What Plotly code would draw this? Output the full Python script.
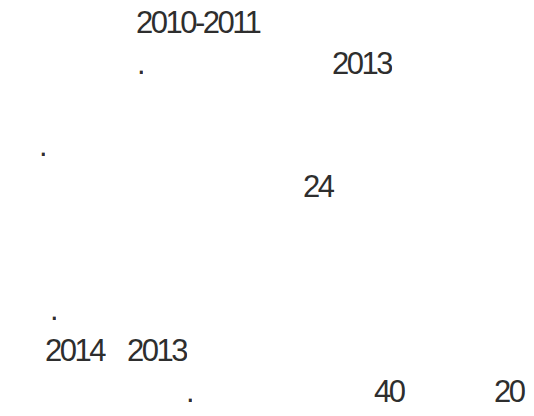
import plotly.graph_objects as go

# Visible fragments of the text block (only digits and punctuation rendered)
fragments = ["2010-2011", ".", "2013", ".", "24", ".", "2014", "2013", ".", "40", "20"]
# layout: line number of each fragment and left ink edge (pixels)
line_no = [1, 2, 2, 4, 5, 8, 9, 9, 10, 10, 10]
x_left = [135.5, 137, 331.5, 38.5, 302.5, 49.5, 45, 126.5, 185.5, 374, 493.5]

line_height = 41.0
first_baseline = 33.5
cap = 22.5
dx, dy = -9, -8   # empirical annotation box offsets

fig = go.Figure()
fig.add_trace(go.Scatter(x=[0, 534], y=[0, 416], mode="markers",
                         marker=dict(opacity=0), hoverinfo="skip", showlegend=False))

for t, ln, x in zip(fragments, line_no, x_left):
    base = first_baseline + (ln - 1) * line_height
    fig.add_annotation(x=x + dx, y=base - cap / 2 + dy,
                       text=f"<span style='letter-spacing:-2.5px'>{t}</span>",
                       showarrow=False, xref="x", yref="y",
                       xanchor="left", yanchor="middle",
                       height=28, valign="middle", borderpad=0,
                       font=dict(family="Liberation Sans, Arial, sans-serif",
                                 size=31, color="#2e2e2e"))

fig.update_layout(width=534, height=416, margin=dict(l=0, r=0, t=0, b=0),
                  paper_bgcolor="white", plot_bgcolor="white",
                  xaxis=dict(range=[0, 534], visible=False, fixedrange=True),
                  yaxis=dict(range=[416, 0], visible=False, fixedrange=True),
                  showlegend=False)
fig.write_html("out.html")
